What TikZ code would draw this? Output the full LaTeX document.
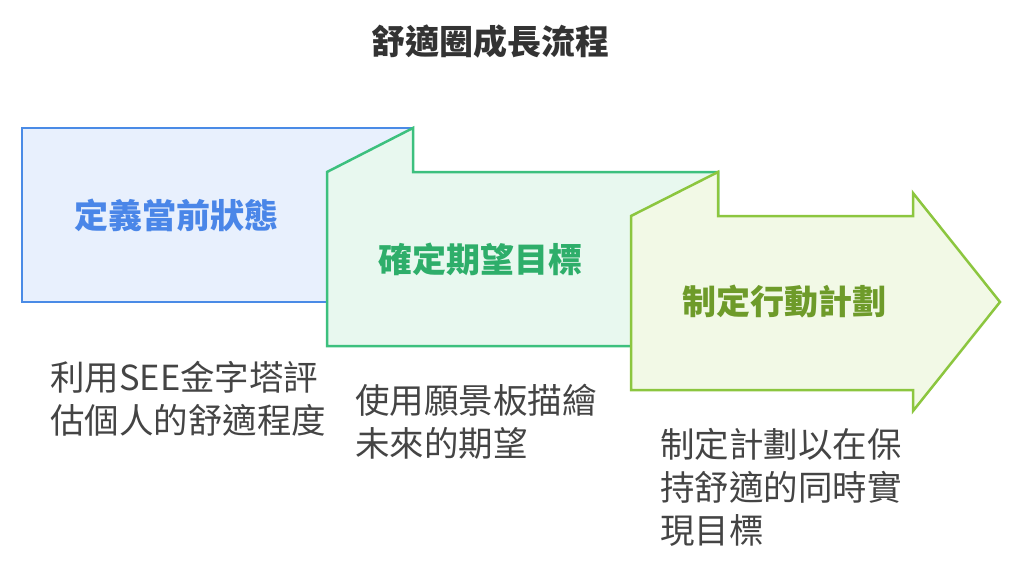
\documentclass[tikz,border=0pt]{standalone}
\usepackage{fontspec}
\setmainfont{Noto Sans CJK TC}
\definecolor{bS}{HTML}{4A8BE6}\definecolor{bF}{HTML}{E8F0FD}
\definecolor{gS}{HTML}{3CC07E}\definecolor{gF}{HTML}{E8F8EF}
\definecolor{lS}{HTML}{8CC63F}\definecolor{lF}{HTML}{F2F9E6}
\definecolor{tB}{HTML}{4A86E8}\definecolor{tG}{HTML}{2EAE6A}\definecolor{tL}{HTML}{6E9B2A}
\definecolor{tx}{HTML}{444444}
\begin{document}
\begin{tikzpicture}[x=1pt,y=-1pt,
  shp/.style={line width=2.5pt,line join=miter},
  lbl/.style={font=\fontsize{34}{40}\selectfont\bfseries},
  desc/.style={font=\fontsize{34.5}{43}\selectfont,text=tx,align=left,anchor=north west,inner sep=0pt}]
\useasboundingbox (0,0) rectangle (1024,581);
\draw[shp,draw=bS,fill=bF] (22,128) rectangle (413,302);
\draw[shp,draw=gS,fill=gF] (327,172)--(413,128)--(413,172)--(718,172)--(718,346)--(327,346)--cycle;
\draw[shp,draw=lS,fill=lF] (631,216)--(718,172)--(718,216)--(913,216)--(913,193)--(1000,302)--(913,411)--(913,390)--(631,390)--cycle;
\node[font=\fontsize{34}{40}\selectfont\bfseries,text=black!80] (title) at (490,42) {舒適圈成長流程};
\node[lbl,text=tB] (l1) at (176,215) {定義當前狀態};
\node[lbl,text=tG] (l2) at (480,259) {確定期望目標};
\node[lbl,text=tL] (l3) at (784,302) {制定行動計劃};
\node[desc] (d1) at (50,361) {利用SEE金字塔評\\估個人的舒適程度};
\node[desc] (d2) at (355,384) {使用願景板描繪\\未來的期望};
\node[desc] (d3) at (660,428) {制定計劃以在保\\持舒適的同時實\\現目標};
\end{tikzpicture}
\end{document}
